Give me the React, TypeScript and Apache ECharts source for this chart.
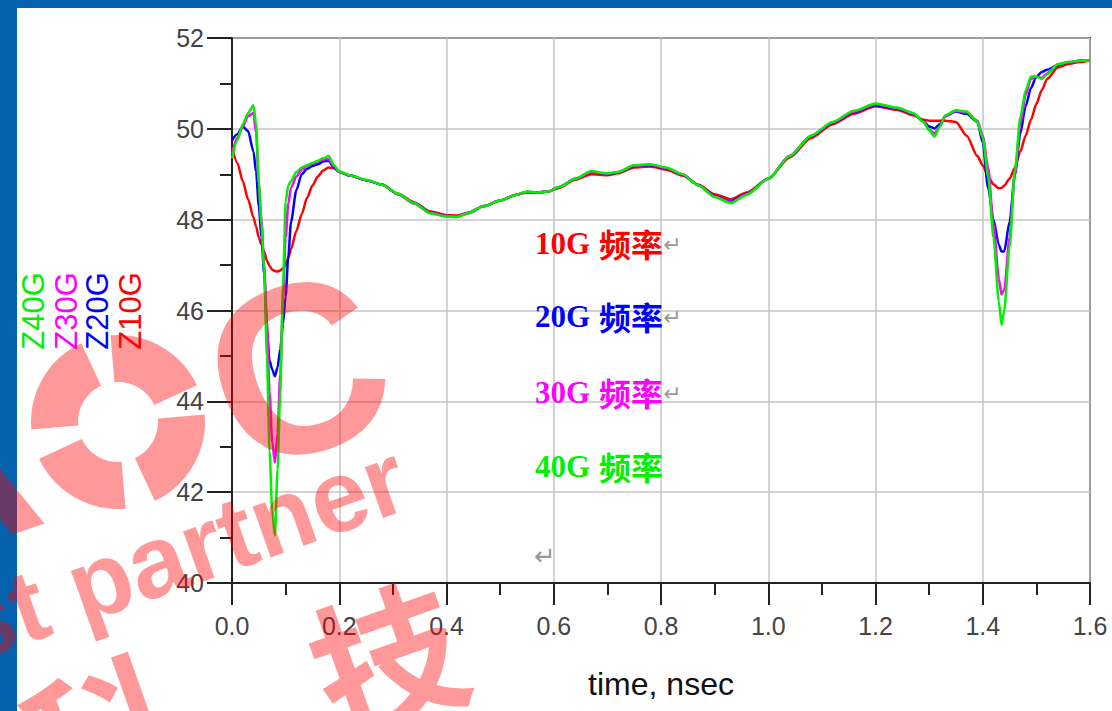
import React, { useEffect, useRef } from "react";
import * as echarts from "echarts";

const T = [
  0, 0.01, 0.02, 0.03, 0.04, 0.045, 0.05, 0.055, 0.06, 0.065,
  0.07, 0.075, 0.08, 0.085, 0.09, 0.095, 0.1, 0.105, 0.11, 0.12,
  0.13, 0.14, 0.15, 0.16, 0.17, 0.18, 0.19, 0.2, 0.22, 0.25,
  0.28, 0.31, 0.34, 0.37, 0.4, 0.42, 0.44, 0.47, 0.5, 0.53,
  0.55, 0.57, 0.59, 0.61, 0.64, 0.67, 0.7, 0.72, 0.75, 0.78,
  0.81, 0.84, 0.87, 0.9, 0.93, 0.96, 1.0, 1.04, 1.08, 1.12,
  1.16, 1.2, 1.24, 1.27, 1.29, 1.3, 1.31, 1.32, 1.33, 1.35,
  1.37, 1.39, 1.4, 1.41, 1.42, 1.43, 1.435, 1.44, 1.45, 1.46,
  1.47, 1.48, 1.49, 1.5, 1.51, 1.52, 1.54, 1.56, 1.58, 1.6,
];

const Z10G = [
  49.6, 49.25, 48.85, 48.45, 48.05, 47.85, 47.6, 47.45, 47.3, 47.1,
  46.98, 46.9, 46.87, 46.86, 46.88, 46.93, 47.0, 47.15, 47.35, 47.75,
  48.12, 48.48, 48.75, 48.95, 49.08, 49.15, 49.13, 49.06, 48.97, 48.87,
  48.77, 48.57, 48.38, 48.18, 48.1, 48.09, 48.15, 48.3, 48.42, 48.55,
  48.6, 48.6, 48.62, 48.7, 48.88, 49.0, 48.98, 49.02, 49.15, 49.17,
  49.1, 48.97, 48.77, 48.56, 48.45, 48.6, 48.9, 49.37, 49.8, 50.1,
  50.33, 50.5, 50.42, 50.3, 50.2, 50.18, 50.18, 50.18, 50.18, 50.15,
  49.85, 49.4, 49.2, 48.95, 48.78, 48.69, 48.7, 48.75, 48.9, 49.15,
  49.5, 49.85, 50.2, 50.55, 50.85, 51.1, 51.35, 51.43, 51.47, 51.5,
];

const Z20G = [
  49.75, 49.88, 50.05, 49.95, 49.5, 49.05, 48.3, 47.6, 46.8, 45.6,
  44.9, 44.7, 44.55, 44.75, 45.15, 45.7, 46.3, 47.2, 47.95, 48.65,
  49.0, 49.12, 49.18, 49.22, 49.28, 49.3, 49.15, 49.05, 48.97, 48.87,
  48.77, 48.56, 48.36, 48.15, 48.08, 48.07, 48.14, 48.3, 48.42, 48.55,
  48.61, 48.6, 48.62, 48.72, 48.9, 49.05, 49.0, 49.04, 49.18, 49.2,
  49.13, 48.99, 48.76, 48.52, 48.4, 48.57, 48.9, 49.4, 49.84, 50.13,
  50.37, 50.52, 50.45, 50.33, 50.16, 50.05, 50.01, 50.1, 50.28, 50.38,
  50.33, 50.15, 49.7, 48.7, 48.0, 47.45, 47.3, 47.3, 47.95, 49.0,
  49.9, 50.5, 50.9, 51.15, 51.25, 51.3, 51.4, 51.46, 51.5, 51.5,
];

const Z30G = [
  49.45, 49.8, 50.05, 50.28, 50.35, 49.9, 48.8, 48.0, 47.0, 45.8,
  44.2, 43.1, 42.65, 43.3, 44.6, 46.2, 47.6, 48.35, 48.7, 48.95,
  49.1, 49.18, 49.23, 49.28, 49.33, 49.33, 49.18, 49.05, 48.97, 48.87,
  48.77, 48.56, 48.35, 48.14, 48.08, 48.07, 48.14, 48.3, 48.42, 48.55,
  48.61, 48.6, 48.62, 48.72, 48.9, 49.05, 49.01, 49.05, 49.19, 49.21,
  49.14, 49.0, 48.76, 48.51, 48.38, 48.56, 48.9, 49.4, 49.85, 50.14,
  50.38, 50.54, 50.46, 50.34, 50.15, 49.98, 49.9, 50.05, 50.28, 50.4,
  50.36, 50.18, 49.85, 49.15, 47.9, 46.7, 46.35, 46.45, 47.6, 49.0,
  50.1, 50.75, 51.1, 51.15, 51.12, 51.22, 51.42, 51.47, 51.5, 51.5,
];

const Z40G = [
  49.35, 49.75, 50.1, 50.35, 50.52, 50.1, 48.8, 47.9, 46.9, 45.0,
  42.9, 41.6, 41.05, 42.5, 44.2, 46.5, 48.4, 48.75, 48.85, 49.05,
  49.15, 49.2, 49.25, 49.3, 49.35, 49.4, 49.2, 49.06, 48.98, 48.88,
  48.77, 48.57, 48.36, 48.14, 48.07, 48.06, 48.14, 48.3, 48.42, 48.55,
  48.62, 48.6, 48.62, 48.72, 48.9, 49.07, 49.02, 49.05, 49.2, 49.22,
  49.15, 49.0, 48.75, 48.5, 48.36, 48.55, 48.9, 49.4, 49.85, 50.15,
  50.4, 50.56, 50.47, 50.35, 50.15, 49.97, 49.83, 50.05, 50.3, 50.41,
  50.38, 50.15, 49.8, 48.95, 47.6, 46.2, 45.68, 46.0, 47.4, 49.1,
  50.25, 50.85, 51.15, 51.15, 51.1, 51.2, 51.42, 51.47, 51.5, 51.5,
];

const SERIES_NAMES = ["Z10G", "Z20G", "Z30G", "Z40G"];
const SERIES_COLORS = ["#ff0000", "#0000ff", "#ff00ff", "#00f000"];
const SERIES_VALUES = [Z10G, Z20G, Z30G, Z40G];

const NOTE_NUMS = ["10G", "20G", "30G", "40G"];
const NOTE_CJK = "频率";

const WM = "rgba(255,0,0,0.4)";

export default function App() {
  const ref = useRef<HTMLDivElement>(null);

  useEffect(() => {
    document.body.style.margin = "0";
    if (!ref.current) return;
    const chart = echarts.init(ref.current, null, { renderer: "svg" });

    const axisCommon = {
      type: "value" as const,
      axisLine: { show: true, onZero: false, lineStyle: { color: "#222", width: 2 } },
      splitLine: { show: true, lineStyle: { color: "#c4c4c4", width: 1.5 } },
      minorTick: { show: true, splitNumber: 2, length: 12, lineStyle: { color: "#222", width: 2 } },
    };

    const noteYs = [243, 316, 392, 466];
    const graphics: any[] = [];

    const zx = [130, 97.5, 66, 33.5];
    SERIES_NAMES.forEach((n, i) => {
      graphics.push({
        type: "text",
        x: zx[i],
        y: 311,
        rotation: Math.PI / 2,
        z: 10,
        style: {
          text: n,
          fill: SERIES_COLORS[i],
          fontSize: 31,
          fontFamily: "Liberation Sans, Arial, sans-serif",
          align: "center",
          verticalAlign: "middle",
          textAlign: "center",
          textVerticalAlign: "middle",
        },
      });
    });

    NOTE_NUMS.forEach((n, i) => {
      graphics.push({
        type: "text",
        x: 535,
        y: noteYs[i],
        z: 10,
        style: {
          text: n,
          fill: SERIES_COLORS[i],
          fontSize: 31,
          fontWeight: "bold",
          fontFamily: "Liberation Serif, serif",
          align: "left",
          verticalAlign: "middle",
          textAlign: "left",
          textVerticalAlign: "middle",
        },
      });
      graphics.push({
        type: "text",
        x: 599,
        y: noteYs[i],
        z: 10,
        style: {
          text: NOTE_CJK,
          fill: SERIES_COLORS[i],
          fontSize: 32,
          fontWeight: "bold",
          fontFamily: "Noto Sans CJK SC",
          align: "left",
          verticalAlign: "middle",
          textAlign: "left",
          textVerticalAlign: "middle",
        },
      });
      if (i < 3) {
        graphics.push({
          type: "text",
          x: 663,
          y: noteYs[i] + 1,
          z: 10,
          style: {
            text: "↵",
            fill: "#999",
            fontSize: 22,
            fontFamily: "DejaVu Sans",
            align: "left",
            verticalAlign: "middle",
            textAlign: "left",
            textVerticalAlign: "middle",
          },
        });
      }
    });
    graphics.push({
      type: "text",
      x: 534,
      y: 556,
      z: 10,
      style: {
        text: "↵",
        fill: "#999",
        fontSize: 26,
        fontFamily: "DejaVu Sans",
        align: "left",
        verticalAlign: "middle",
        textAlign: "left",
        textVerticalAlign: "middle",
      },
    });

    // watermark
    const deg = Math.PI / 180;
    const gaps = [-15, 75, 165, 255];
    gaps.forEach((g) => {
      graphics.push({
        type: "sector",
        z: 50,
        shape: { cx: 118, cy: 422, r0: 40, r: 87, startAngle: (g + 10) * deg, endAngle: (g + 80) * deg, clockwise: true },
        style: { fill: WM },
      });
    });
    const wmText = (text: string, x: number, y: number, size: number, family: string, align = "center") => ({
      type: "text",
      x,
      y,
      rotation: 0.34,
      z: 50,
      style: {
        text,
        fill: WM,
        fontSize: size,
        fontWeight: "bold",
        fontFamily: family,
        align,
        verticalAlign: "middle",
        textAlign: align,
        textVerticalAlign: "middle",
      },
    });
    graphics.push(wmText("A", -59, 472, 240, "Liberation Sans, Arial"));
    graphics.push(wmText("C", 297, 370, 240, "Liberation Sans, Arial"));
    graphics.push(wmText("st partner", 402, 474, 102, "Liberation Sans, Arial", "right"));
    graphics.push(wmText("技", 385, 652, 150, "Noto Sans CJK SC"));
    graphics.push(wmText("科", 98, 728, 150, "Noto Sans CJK SC"));

    chart.setOption({
      animation: false,
      grid: {
        left: 232,
        right: 22,
        top: 38,
        bottom: 128,
        show: true,
        borderColor: "#333",
        borderWidth: 2,
        backgroundColor: "transparent",
      },
      xAxis: {
        ...axisCommon,
        min: 0,
        max: 1.6,
        interval: 0.2,
        axisTick: { show: true, length: 22, lineStyle: { color: "#222", width: 2 } },
        axisLabel: {
          margin: 30,
          fontSize: 25,
          color: "#444",
          fontFamily: "Liberation Sans, Arial",
          formatter: (v: number) => v.toFixed(1),
        },
        name: "time, nsec",
        nameLocation: "middle",
        nameGap: 85,
        nameTextStyle: { fontSize: 32, color: "#111", fontFamily: "Liberation Sans, Arial" },
      },
      yAxis: {
        ...axisCommon,
        min: 40,
        max: 52,
        interval: 2,
        axisTick: { show: true, length: 25, lineStyle: { color: "#222", width: 2 } },
        axisLabel: {
          margin: 28,
          fontSize: 25,
          color: "#444",
          fontFamily: "Liberation Sans, Arial",
        },
      },
      series: SERIES_NAMES.map((n, i) => ({
        name: n,
        type: "line",
        data: T.map((t, k) => [t, SERIES_VALUES[i][k]]),
        showSymbol: false,
        symbol: "none",
        smooth: 0.25,
        smoothMonotone: "x",
        lineStyle: { color: SERIES_COLORS[i], width: 2.5 },
        itemStyle: { color: SERIES_COLORS[i] },
        z: 2 + i,
      })),
      graphic: graphics,
    });

    return () => chart.dispose();
  }, []);

  return (
    <div style={{ position: "relative", width: 1112, height: 711, background: "#0461ad", overflow: "hidden" }}>
      <div style={{ position: "absolute", left: 17, top: 8, right: 0, bottom: 0, background: "#fff" }} />
      <div ref={ref} style={{ position: "absolute", left: 0, top: 0, width: 1112, height: 711 }} />
    </div>
  );
}
